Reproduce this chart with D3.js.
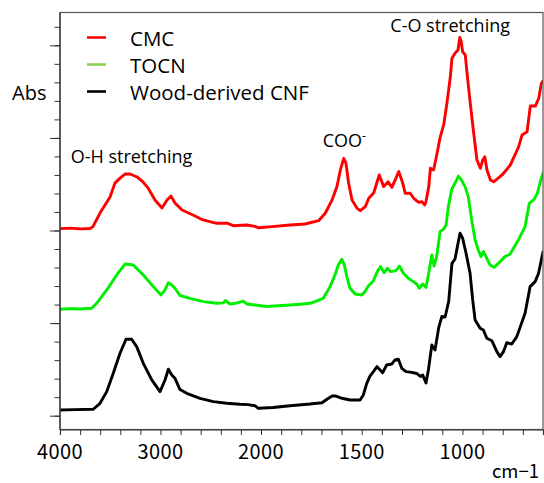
<!DOCTYPE html>
<html><head><meta charset="utf-8">
<script src="https://cdn.jsdelivr.net/npm/d3@7"></script>
<style>
html,body{margin:0;padding:0;background:#fff;}
svg text{font-family:"Open Sans","Noto Sans",sans-serif;fill:#000;}
</style></head>
<body><svg id="chart" width="544" height="483"></svg>
<script>
// ---- data ----
const seriesNames = ["CMC", "TOCN", "Wood-derived CNF"];
const seriesColors = ["#ff0000", "#00ee00", "#000000"];
const legendColors = ["#ff0000", "#8fd14f", "#000000"];

const cmcWavenumber = [4000,3900,3800,3701,3672,3602,3502,3453,3403,3353,3303,3234,3174,3124,3055,2985,2935,2896,2856,2786,2677,2577,2441,2338,2276,2142,2060,2027,1945,1856,1782,1714,1681,1647,1623,1606,1589,1578,1565,1548,1523,1507,1482,1465,1440,1413,1391,1369,1350,1316,1296,1284,1259,1242,1217,1201,1187,1181,1167,1159,1143,1126,1110,1093,1077,1060,1052,1035,1022,1013,1006,999,986,977,961,944,928,911,899,889,878,861,845,803,762,721,704,679,663,638,621,608,600];
const cmcAbs = [1.010,1.013,1.009,1.011,1.021,1.094,1.181,1.256,1.283,1.305,1.305,1.289,1.262,1.230,1.165,1.122,1.165,1.186,1.149,1.111,1.084,1.057,1.039,1.040,1.026,1.030,1.022,1.015,1.021,1.030,1.035,1.053,1.093,1.165,1.237,1.327,1.390,1.363,1.255,1.165,1.120,1.107,1.129,1.174,1.204,1.300,1.237,1.263,1.233,1.318,1.255,1.201,1.201,1.174,1.152,1.156,1.138,1.156,1.237,1.336,1.327,1.417,1.506,1.570,1.687,1.830,1.930,1.960,1.975,2.043,2.019,1.965,1.948,1.849,1.687,1.525,1.381,1.336,1.381,1.398,1.327,1.273,1.263,1.300,1.354,1.452,1.516,1.533,1.672,1.672,1.714,1.795,1.807];

const tocnWavenumber = [4000,3900,3800,3685,3635,3535,3436,3353,3271,3171,3072,2995,2955,2922,2888,2856,2806,2706,2574,2441,2375,2353,2308,2226,2176,2139,2060,1972,1856,1806,1757,1732,1691,1657,1633,1616,1599,1586,1574,1558,1533,1500,1484,1467,1442,1423,1406,1389,1373,1356,1330,1313,1293,1269,1244,1227,1214,1197,1181,1169,1152,1141,1128,1111,1095,1081,1070,1053,1037,1020,1003,987,971,954,937,921,908,896,883,863,843,813,789,764,722,689,668,644,628,611,600];
const tocnAbs = [0.575,0.578,0.576,0.580,0.607,0.679,0.760,0.819,0.814,0.760,0.697,0.652,0.679,0.718,0.706,0.688,0.649,0.634,0.616,0.607,0.609,0.622,0.603,0.610,0.619,0.603,0.598,0.590,0.598,0.602,0.607,0.616,0.634,0.697,0.760,0.814,0.845,0.814,0.751,0.688,0.657,0.652,0.670,0.700,0.729,0.778,0.805,0.772,0.796,0.778,0.783,0.808,0.769,0.742,0.724,0.711,0.688,0.711,0.693,0.760,0.868,0.808,0.859,0.994,1.006,1.030,1.129,1.222,1.255,1.294,1.269,1.237,1.183,1.057,0.949,0.895,0.859,0.886,0.859,0.814,0.801,0.832,0.859,0.872,0.949,1.021,1.147,1.168,1.201,1.273,1.309];

const cnfWavenumber = [4000,3850,3669,3602,3535,3470,3403,3343,3287,3237,3171,3087,3005,2955,2922,2888,2856,2806,2739,2607,2474,2341,2209,2129,2060,2027,1940,1856,1757,1697,1667,1647,1628,1598,1558,1508,1492,1475,1459,1442,1424,1409,1396,1376,1351,1335,1318,1301,1280,1252,1227,1209,1197,1181,1169,1152,1136,1118,1102,1086,1068,1052,1037,1025,1012,999,982,962,949,937,912,896,879,854,829,813,796,780,755,730,689,664,639,622,605,600];
const cnfAbs = [0.031,0.033,0.035,0.067,0.130,0.229,0.337,0.413,0.413,0.373,0.283,0.193,0.130,0.193,0.251,0.220,0.202,0.141,0.121,0.094,0.076,0.067,0.062,0.060,0.054,0.040,0.044,0.054,0.063,0.070,0.093,0.106,0.106,0.094,0.085,0.085,0.112,0.175,0.214,0.238,0.265,0.247,0.232,0.274,0.279,0.301,0.305,0.256,0.238,0.234,0.228,0.212,0.220,0.177,0.247,0.382,0.355,0.474,0.536,0.533,0.619,0.823,0.845,0.913,0.985,0.958,0.877,0.769,0.625,0.517,0.472,0.463,0.418,0.405,0.346,0.319,0.346,0.394,0.387,0.427,0.553,0.697,0.724,0.769,0.859,0.884];

const xTickLabels = [4000, 3000, 2000, 1500, 1000];
const xMinorTicks = [4000,3800,3600,3400,3200,3000,2800,2600,2400,2200,2000,1900,1800,1700,1600,1500,1400,1300,1200,1100,1000,900,800,700];
const yTicks = d3.range(0, 22).map(i => +(i * 0.1).toFixed(1));
const yMajorTicks = [0, 0.5, 1.0, 1.5, 2.0];

const annotations = [
  {text: "O-H stretching", w: 3894, v: 1.363},
  {text: "C-O stretching", w: 1358, v: 2.073},
  {text: "COO", w: 1694, v: 1.449, sup: "-"}
];

// ---- chart ----
const svg = d3.select("#chart");
const L = 60, R = 543, T = 12.5, B = 429.5;
const x = d3.scaleLinear().domain([4000, 2000, 600]).range([L, 261, R]);
const y = d3.scaleLinear().domain([0, 2.1]).range([415.7, 26.8]);

const series = [
  {name: seriesNames[0], w: cmcWavenumber, a: cmcAbs},
  {name: seriesNames[1], w: tocnWavenumber, a: tocnAbs},
  {name: seriesNames[2], w: cnfWavenumber, a: cnfAbs}
];

const line = d3.line().x(d => x(d[0])).y(d => y(d[1]));
svg.append("defs").append("clipPath").attr("id","clip")
  .append("rect").attr("x", L).attr("y", T).attr("width", R - L).attr("height", B - T);

const g = svg.append("g").attr("clip-path","url(#clip)");
series.forEach((s, i) => {
  g.append("path")
    .datum(s.w.map((w, k) => [w, s.a[k]]))
    .attr("d", line)
    .attr("fill","none")
    .attr("stroke", seriesColors[i])
    .attr("stroke-width", 2.9)
    .attr("stroke-linejoin","round")
    .attr("stroke-linecap","round");
});

// frame
svg.append("rect").attr("x", L).attr("y", T).attr("width", R - L).attr("height", B - T)
  .attr("fill","none").attr("stroke","#555").attr("stroke-width",1.2);

// x axis ticks
const xAxis = d3.axisBottom(x).tickValues(xMinorTicks).tickSize(5.5).tickFormat("");
const xg = svg.append("g").attr("transform", `translate(0,${B})`).call(xAxis);
xg.select(".domain").attr("stroke","#333").attr("stroke-width",1.2);
xg.selectAll(".tick line").attr("stroke","#333");
svg.append("g").selectAll("text").data(xTickLabels).join("text")
  .attr("x", d => x(d)).attr("y", 458.5)
  .attr("text-anchor","middle")
  .style("font-family", '"Noto Sans CJK JP","Noto Sans",sans-serif')
  .style("font-size","20px")
  .style("letter-spacing","0.4px")
  .text(d => d);
svg.append("text").attr("x", 539).attr("y", 477.5).attr("text-anchor","end")
  .style("font-family", '"Noto Sans CJK JP","Noto Sans",sans-serif')
  .style("font-size","18.5px").text("cm\u22121");

// y axis ticks
const yAxisMinor = d3.axisLeft(y).tickValues(yTicks).tickSize(5.5).tickFormat("");
const yg = svg.append("g").attr("transform", `translate(${L},0)`).call(yAxisMinor);
yg.select(".domain").remove();
yg.selectAll(".tick line").attr("stroke","#333");
const yAxisMajor = d3.axisLeft(y).tickValues(yMajorTicks).tickSize(10).tickFormat("");
const yg2 = svg.append("g").attr("transform", `translate(${L},0)`).call(yAxisMajor);
yg2.select(".domain").remove();
yg2.selectAll(".tick line").attr("stroke","#333");
svg.append("line").attr("x1", L).attr("x2", L).attr("y1", T).attr("y2", B)
  .attr("stroke","#333").attr("stroke-width",1.2);

svg.append("text").attr("x", 12).attr("y", 100).style("font-size","20px").text("Abs");

// legend
const leg = svg.append("g");
seriesNames.forEach((n, i) => {
  const yy = 37.5 + i * 27;
  leg.append("line").attr("x1", 87).attr("x2", 106).attr("y1", yy).attr("y2", yy)
    .attr("stroke", legendColors[i]).attr("stroke-width", 2.6);
  leg.append("text").attr("x", 130).attr("y", yy + 8.5).style("font-size","20.5px").text(n);
});

// annotations
annotations.forEach(a => {
  const t = svg.append("text").attr("x", x(a.w)).attr("y", y(a.v))
    .style("font-size","18px").text(a.text);
  if (a.sup) t.append("tspan").attr("dy", -7).style("font-size","12px").text(a.sup);
});
</script></body></html>
